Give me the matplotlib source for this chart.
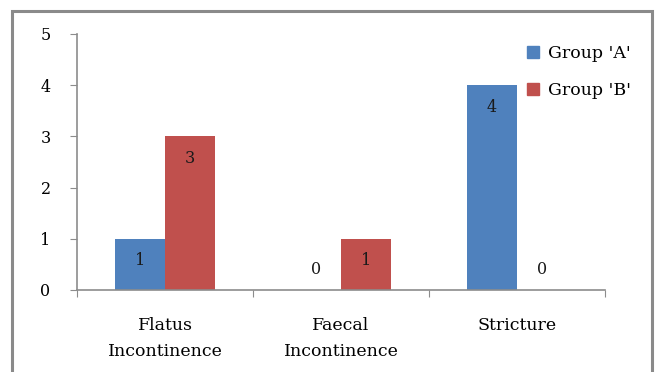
import matplotlib
matplotlib.use("Agg")
import matplotlib.pyplot as plt
import matplotlib.patches as mpatches
from matplotlib.lines import Line2D
import numpy as np

categories = ["Flatus\nIncontinence", "Faecal\nIncontinence", "Stricture"]
group_a = [1, 0, 4]
group_b = [3, 1, 0]
series_names = ["Group 'A'", "Group 'B'"]
colors = ["#4F81BD", "#C0504D"]
yticks = [0, 1, 2, 3, 4, 5]

plt.rcParams['font.family'] = ['DejaVu Serif']

W, H = 657, 372
fig = plt.figure(figsize=(W / 100, H / 100), dpi=100)
ax = fig.add_axes([77 / W, (H - 290) / H, (605 - 77) / W, (290 - 34) / H])

x = np.arange(len(categories))
bw = 50 / 176
axis_col = "#8c8c8c"

for i, (vals, c) in enumerate(zip([group_a, group_b], colors)):
    pos = x + (i - 0.5) * bw
    ax.bar(pos, vals, width=bw, color=c, label=series_names[i])
    for p, v in zip(pos, vals):
        off = -22 if v > 0 else 20
        ax.annotate(str(v), (p, v), xytext=(0, off), textcoords="offset pixels",
                    ha="center", va="center", fontsize=11.5, color="#1a1a1a")

ax.set_xlim(-0.5, len(categories) - 0.5)
ax.set_ylim(0, 5)
ax.set_yticks(yticks)
ax.set_yticklabels([str(t) for t in yticks], fontsize=11.5)
ax.set_xticks([-0.5, 0.5, 1.5, 2.5])
ax.set_xticklabels([])
ax.tick_params(axis="x", length=5, color=axis_col, direction="out")
ax.tick_params(axis="y", length=5, color=axis_col, direction="out", pad=14)
for k, c in enumerate(categories):
    ax.text(k, -0.52, c, ha="center", va="top", fontsize=12.5,
            transform=ax.transData, linespacing=1.7)

for s in ["top", "right"]:
    ax.spines[s].set_visible(False)
for s in ["left", "bottom"]:
    ax.spines[s].set_color(axis_col)
    ax.spines[s].set_linewidth(1.2)

handles = [Line2D([0], [0], marker="s", linestyle="none", markersize=8,
                  markerfacecolor=c, markeredgecolor=c) for c in colors]
fig.legend(handles, series_names, loc="upper left",
           bbox_to_anchor=(509 / W, 1 - 29 / H), frameon=False, fontsize=12.5,
           handletextpad=0.35, labelspacing=1.2, handlelength=1.0)

frame = mpatches.Rectangle((12 / W, -0.05), (652 - 12) / W, 1.05 - 11 / H,
                           transform=fig.transFigure, fill=False,
                           edgecolor="#8a8a8a", linewidth=2.2, clip_on=False)
fig.add_artist(frame)

fig.savefig("out.png", dpi=100)
